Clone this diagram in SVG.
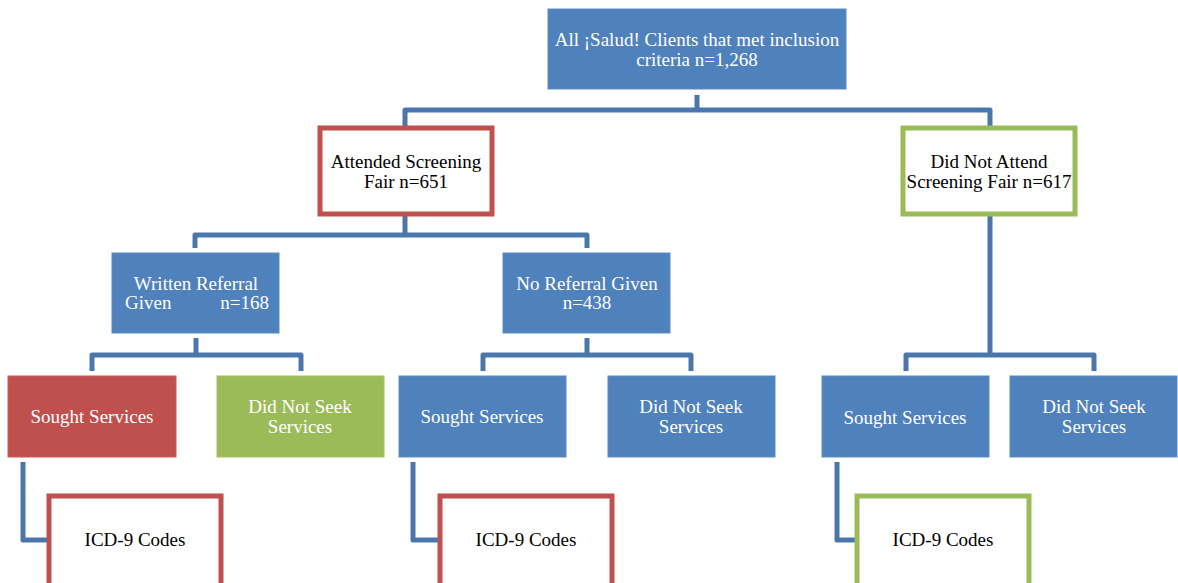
<svg xmlns="http://www.w3.org/2000/svg" width="1178" height="583" viewBox="0 0 1178 583">
<style>
.blue{fill:#4F81BD;stroke:#5B8BC4;stroke-width:1}
.red{fill:#C0504D;stroke:#C85C59;stroke-width:1}
.green{fill:#9BBB59;stroke:#A5C265;stroke-width:1}
.ored{fill:#FFFFFF;stroke:#C0504D;stroke-width:5}
.ogreen{fill:#FFFFFF;stroke:#9BBB59;stroke-width:5}
.conn{fill:none;stroke:#4A76AB;stroke-width:5;stroke-linejoin:round}
text{font-family:"Liberation Serif","DejaVu Serif",serif;font-size:19px;text-anchor:middle}
.w{fill:#FFFFFF}
.k{fill:#000000}
</style>
<g id="connectors">
<path class="conn" d="M697,95 V110 M405,126 V110 H990 V126"/>
<path class="conn" d="M405,216 V235 M195,248 V235 H587 V248"/>
<path class="conn" d="M587,338 V355"/>
<path class="conn" d="M196,338 V355 M92,371 V355 H301 V371"/>
<path class="conn" d="M483,371 V355 H691 V371"/>
<path class="conn" d="M990,216 V355 M906,371 V355 H1094 V371"/>
<path class="conn" d="M23,462 V540 H47"/>
<path class="conn" d="M413,462 V540 H438"/>
<path class="conn" d="M837,462 V540 H855"/>
</g>
<g id="root"><rect class="blue" x="548" y="9" width="298" height="80"/>
<text class="w" x="697" y="46">All ¡Salud! Clients that met inclusion</text>
<text class="w" x="697" y="66">criteria n=1,268</text></g>
<g id="attended"><rect class="ored" x="320" y="128" width="172" height="86"/>
<text class="k" x="406" y="168">Attended Screening</text>
<text class="k" x="406" y="188">Fair n=651</text></g>
<g id="notattend"><rect class="ogreen" x="903" y="128" width="172" height="86"/>
<text class="k" x="989" y="168">Did Not Attend</text>
<text class="k" x="989" y="188">Screening Fair n=617</text></g>
<g id="written"><rect class="blue" x="112" y="253" width="167" height="80"/>
<text class="w" x="196" y="290">Written Referral</text>
<text class="w" x="125" y="309" style="text-anchor:start">Given</text>
<text class="w" x="269" y="309" style="text-anchor:end">n=168</text></g>
<g id="noreferral"><rect class="blue" x="503" y="253" width="167" height="80"/>
<text class="w" x="587" y="290">No Referral Given</text>
<text class="w" x="587" y="309">n=438</text></g>
<g id="sought1"><rect class="red" x="8" y="376" width="168" height="81"/>
<text class="w" x="92" y="423">Sought Services</text></g>
<g id="notseek1"><rect class="green" x="217" y="376" width="167" height="81"/>
<text class="w" x="300" y="413">Did Not Seek</text>
<text class="w" x="300" y="433">Services</text></g>
<g id="sought2"><rect class="blue" x="399" y="376" width="167" height="81"/>
<text class="w" x="482" y="423">Sought Services</text></g>
<g id="notseek2"><rect class="blue" x="608" y="376" width="167" height="81"/>
<text class="w" x="691" y="413">Did Not Seek</text>
<text class="w" x="691" y="433">Services</text></g>
<g id="sought3"><rect class="blue" x="822" y="376" width="167" height="81"/>
<text class="w" x="905" y="424">Sought Services</text></g>
<g id="notseek3"><rect class="blue" x="1010" y="376" width="167" height="81"/>
<text class="w" x="1094" y="413">Did Not Seek</text>
<text class="w" x="1094" y="433">Services</text></g>
<g id="icd1"><rect class="ored" x="49" y="496" width="172" height="92"/>
<text class="k" x="135" y="546">ICD-9 Codes</text></g>
<g id="icd2"><rect class="ored" x="440" y="496" width="172" height="92"/>
<text class="k" x="526" y="546">ICD-9 Codes</text></g>
<g id="icd3"><rect class="ogreen" x="857" y="496" width="172" height="92"/>
<text class="k" x="943" y="546">ICD-9 Codes</text></g>
</svg>
